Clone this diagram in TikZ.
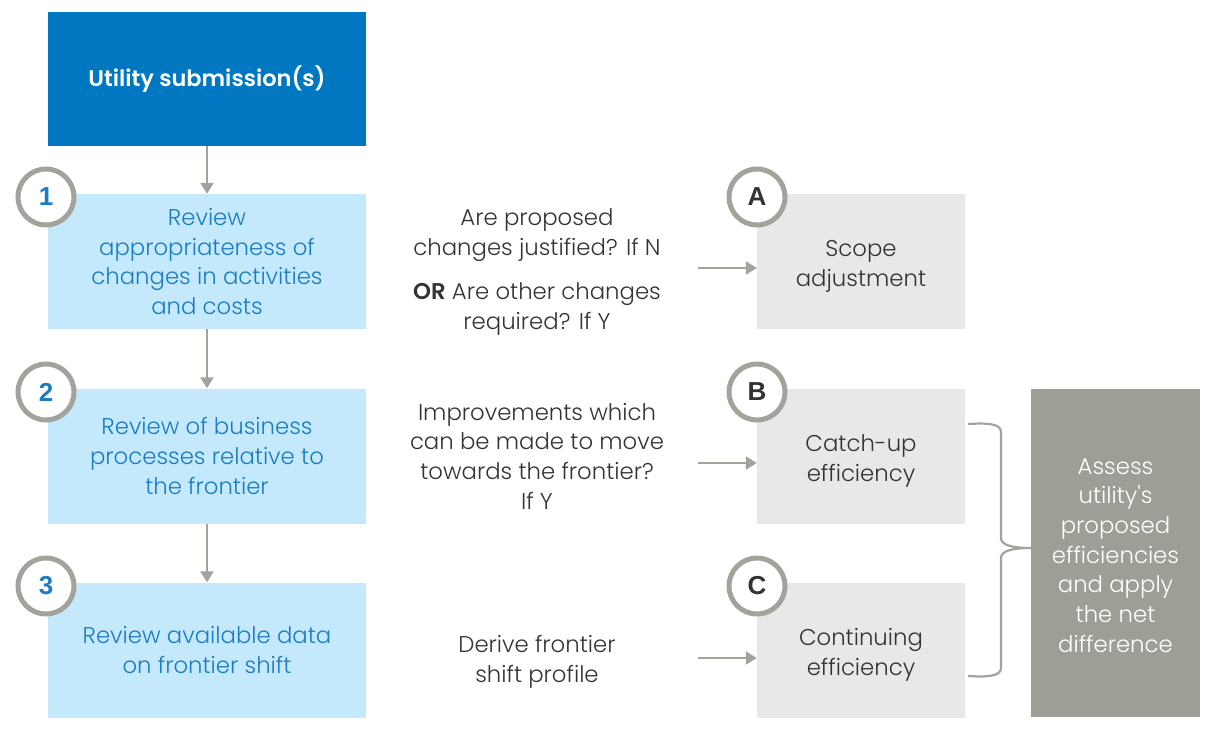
\documentclass[tikz,border=0pt]{standalone}
\usepackage{fontspec}
\setmainfont{Poppins}[UprightFont=* Light, BoldFont=* SemiBold]
\newfontfamily\badgefont{Liberation Sans}
\usetikzlibrary{arrows.meta}
\definecolor{deepblue}{HTML}{0077C1}
\definecolor{paleblue}{HTML}{C4E9FC}
\definecolor{bluetext}{HTML}{1C7CC3}
\definecolor{lightgrey}{HTML}{E8E8E8}
\definecolor{darkgrey}{HTML}{9E9E97}
\definecolor{ringgrey}{HTML}{A3A39C}
\definecolor{bodytext}{HTML}{333333}
\tikzset{
  txt/.style={font=\fontsize{22.8}{29.7}\selectfont, align=center},
  stagebox/.style={txt, fill=paleblue, text=bluetext, minimum width=318pt, minimum height=135pt, inner sep=0pt},
  outbox/.style={fill=lightgrey, minimum width=208pt, minimum height=135pt, inner sep=0pt},
  note/.style={txt, text=bodytext, inner sep=0pt},
  badge/.style={circle, draw=ringgrey, line width=5pt, fill=white, minimum size=56pt, inner sep=0pt, font=\badgefont\fontsize{26}{26}\selectfont\bfseries},
  flow/.style={draw=ringgrey, line width=2.2pt, -{Triangle[length=11pt,width=13pt]}},
}
\begin{document}
\begin{tikzpicture}[x=1pt,y=-1pt]
\useasboundingbox (0,0) rectangle (1206,733);

% input box
\node[txt, fill=deepblue, text=white, minimum width=318pt, minimum height=134pt, inner sep=0pt, font=\fontsize{22.5}{29.7}\selectfont\bfseries] (sub) at (207,79) {\raisebox{-1pt}{Utility submission(s)}};

% review stages
\node[stagebox] (s1) at (207,261.5) {Review\\appropriateness of\\changes in activities\\and costs};
\node[stagebox] (s2) at (207,456) {Review of business\\processes relative to\\the frontier};
\node[stagebox] (s3) at (207,650) {Review available data\\on frontier shift};

\draw[flow] (sub) -- (s1);
\draw[flow] (s1) -- (s2);
\draw[flow] (s2) -- (s3);

\node[badge, text=bluetext] (n1) at (46,197) {1};
\node[badge, text=bluetext] (n2) at (46,392) {2};
\node[badge, text=bluetext] (n3) at (46,586) {3};

% questions
\node[note] (q1) at (537,272) {Are proposed\\changes justified? If N\\[14pt]\textbf{OR} Are other changes\\required? If Y};
\node[note] (q2) at (537,456) {Improvements which\\can be made to move\\towards the frontier?\\If Y};
\node[note] (q3) at (537,662) {Derive frontier\\shift profile};

% outcomes
\node[outbox] (oa) at (861,261.5) {};
\node[outbox] (ob) at (861,456) {};
\node[outbox] (oc) at (861,650) {};
\node[note] (ta) at ([yshift=-5pt]oa.center) {Scope\\adjustment};
\node[note] (tb) at ([yshift=-5pt]ob.center) {Catch-up\\efficiency};
\node[note] (tc) at ([yshift=-5pt]oc.center) {Continuing\\efficiency};

\coordinate (pa) at (698,268);
\coordinate (pb) at (698,463);
\coordinate (pc) at (698,658);
\draw[flow] (pa) -- (pa -| oa.west);
\draw[flow] (pb) -- (pb -| ob.west);
\draw[flow] (pc) -- (pc -| oc.west);

\node[badge, text=bodytext] (la) at (757,197) {A};
\node[badge, text=bodytext] (lb) at (757,392) {B};
\node[badge, text=bodytext] (lc) at (757,586) {C};

% final assessment
\node[fill=darkgrey, minimum width=169pt, minimum height=328pt, inner sep=0pt] (fin) at (1115.5,553) {};
\node[note, text=white] (tfin) at ([yshift=-2.5pt]fin.center) {Assess\\utility\textquotesingle s\\proposed\\efficiencies\\and apply\\the net\\difference};

% brace joining catch-up and continuing efficiency
\coordinate (bt) at (968,424);
\coordinate (bb) at (968,676);
\draw[ringgrey, line width=2.2pt, line join=round]
  (bt) .. controls (985,423) and (1001,423) .. (1001,432)
  -- (1001,538) .. controls (1001,546) and (1015,548) .. (fin.west |- 0,548)
  (bb) .. controls (985,677) and (1001,677) .. (1001,668)
  -- (1001,558) .. controls (1001,550) and (1015,548) .. (fin.west |- 0,548);
\end{tikzpicture}
\end{document}
